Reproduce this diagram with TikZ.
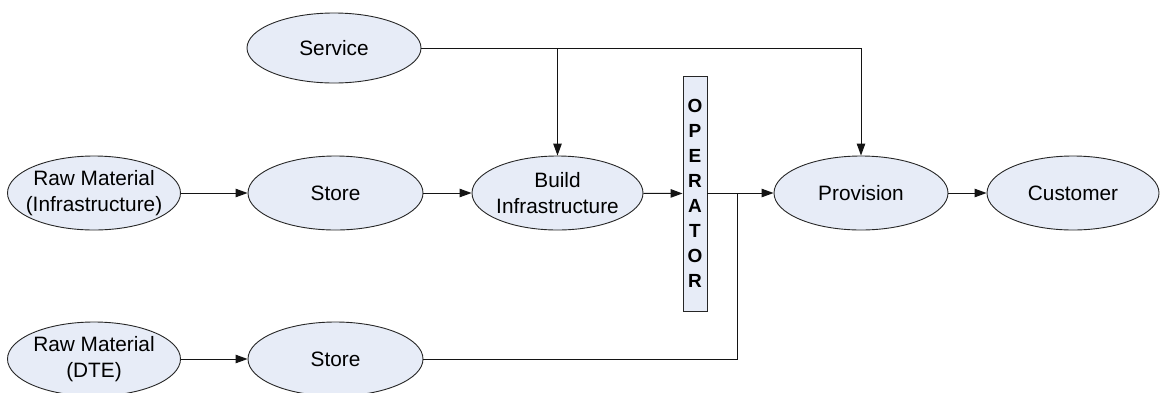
\documentclass[tikz,border=0pt]{standalone}
\usepackage{fontspec}
\setmainfont{Liberation Sans}
\usetikzlibrary{shapes.geometric,arrows.meta}
\definecolor{nodefill}{RGB}{231,236,247}
\definecolor{edgecol}{RGB}{20,20,20}
\tikzset{
  oval/.style={ellipse, draw=black!85, line width=0.9pt, fill=nodefill, inner sep=0pt,
    minimum width=173pt, minimum height=74pt,
    label={[align=center, font=\fontsize{20.8}{26.5}\selectfont, inner sep=0pt]center:#1}},
  opbox/.style={rectangle, draw=black!85, line width=0.9pt, fill=nodefill, inner sep=0pt,
    minimum width=24pt, minimum height=235pt, align=center,
    font=\bfseries\fontsize{19}{25}\selectfont},
  conn/.style={draw=edgecol, line width=1pt},
  arr/.style={conn, -{Triangle[length=12pt,width=8.5pt]}}
}
\begin{document}
\begin{tikzpicture}[x=1pt,y=-1pt]
\useasboundingbox (0,0) rectangle (1167,392);
\node[oval={Raw Material\\(Infrastructure)}] (rawI) at (94,193) {};
\node[oval={Store}, minimum width=175pt] (store1) at (335.5,193) {};
\node[oval={Build\\Infrastructure}, minimum width=171pt] (build) at (557.5,193) {};
\node[opbox] (op) at (695,193.5) {O\\P\\E\\R\\A\\T\\O\\R};
\node[oval={Provision}, minimum width=174pt] (prov) at (861,193) {};
\node[oval={Customer}, minimum width=172pt] (cust) at (1073,193) {};
\node[oval={Service}, minimum width=174pt, minimum height=70pt] (service) at (334,48) {};
\node[oval={Raw Material\\(DTE)}] (rawD) at (94,359) {};
\node[oval={Store}, minimum width=175pt] (store2) at (335.5,359) {};
\coordinate (j) at (737,193);
\coordinate (sb) at (557.5,48);

\draw[arr] (rawI) -- (store1);
\draw[arr] (store1) -- (build);
\draw[arr] (build) -- (op);
\draw[arr] (op.east |- prov) -- (prov);
\draw[arr] (prov) -- (cust);
\draw[arr] (rawD) -- (store2);
\draw[conn] (store2.east) -| (j);
\draw[arr] (service.east) -| (prov.north);
\draw[arr] (sb) -- (build.north);
\end{tikzpicture}
\end{document}
